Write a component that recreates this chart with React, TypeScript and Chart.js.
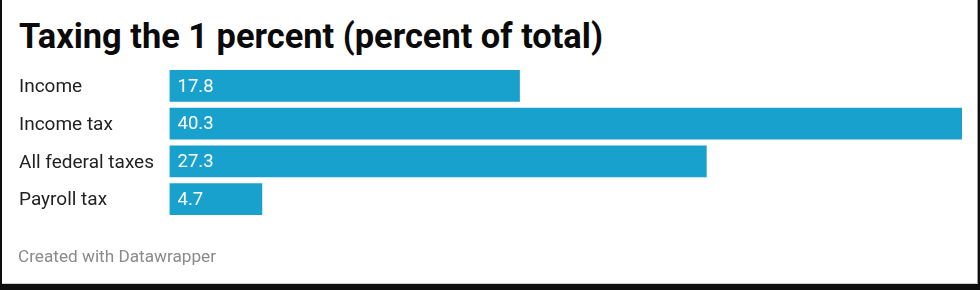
import React, { useEffect, useRef } from "react";
import { Chart, registerables } from "chart.js";

Chart.register(...registerables);

const title = "Taxing the 1 percent (percent of total)";
const footer = "Created with Datawrapper";
const categories = ["Income", "Income tax", "All federal taxes", "Payroll tax"];
const values = [17.8, 40.3, 27.3, 4.7];
const barColor = "#18a1cd";

const valueLabelPlugin = {
  id: "valueLabels",
  afterDatasetsDraw(chart: any) {
    const { ctx } = chart;
    const meta = chart.getDatasetMeta(0);
    ctx.save();
    ctx.font = "18.5px Roboto";
    ctx.fillStyle = "#ffffff";
    ctx.textAlign = "left";
    ctx.textBaseline = "middle";
    meta.data.forEach((bar: any, i: number) => {
      ctx.fillText(values[i].toFixed(1), bar.base + 8, bar.y + 1);
    });
    ctx.restore();
  },
};

export default function App() {
  const ref = useRef<HTMLCanvasElement | null>(null);

  useEffect(() => {
    if (!ref.current) return;
    const chart = new Chart(ref.current, {
      type: "bar",
      data: {
        labels: categories,
        datasets: [
          {
            data: values,
            backgroundColor: barColor,
            borderWidth: 0,
            barThickness: 31,
          },
        ],
      },
      options: {
        indexAxis: "y",
        animation: false,
        responsive: false,
        maintainAspectRatio: false,
        layout: { padding: { left: 19, right: 18, top: 67, bottom: 72 } },
        plugins: {
          legend: { display: false },
          tooltip: { enabled: false },
        },
        scales: {
          x: {
            display: false,
            min: 0,
            max: 40.3,
          },
          y: {
            border: { display: false },
            grid: { display: false, drawTicks: false },
            ticks: {
              crossAlign: "far",
              color: "#222222",
              font: { family: "Roboto", size: 19 },
              padding: 0,
              labelOffset: 1.5,
            },
            afterFit(scale: any) {
              scale.width = 150.5;
            },
          },
        },
      },
      plugins: [valueLabelPlugin],
    });
    return () => chart.destroy();
  }, []);

  return (
    <div
      style={{
        position: "fixed",
        left: 0,
        top: 0,
        width: 980,
        height: 290,
        background: "#0e0e0e",
        overflow: "hidden",
      }}
    >
      <div
        style={{
          position: "absolute",
          left: 2,
          top: 0,
          width: 975,
          height: 283,
          background: "#ffffff",
          borderRight: "1px solid #9a9a9a",
          borderBottom: "1px solid #d0d0d0",
        }}
      />
      <div
        style={{
          position: "absolute",
          left: 19,
          top: 18.5,
          fontFamily: "Roboto",
          fontWeight: 700,
          fontSize: 34.4,
          lineHeight: "34.4px",
          color: "#0a0a0a",
          whiteSpace: "nowrap",
        }}
      >
        {title}
      </div>
      <canvas
        ref={ref}
        width={980}
        height={290}
        style={{ position: "absolute", left: 0, top: 0, width: 980, height: 290 }}
      />
      <div
        style={{
          position: "absolute",
          left: 18,
          top: 248,
          fontFamily: "Roboto",
          fontSize: 17.2,
          lineHeight: "17px",
          color: "#8a8a8a",
          whiteSpace: "nowrap",
        }}
      >
        {footer}
      </div>
    </div>
  );
}
